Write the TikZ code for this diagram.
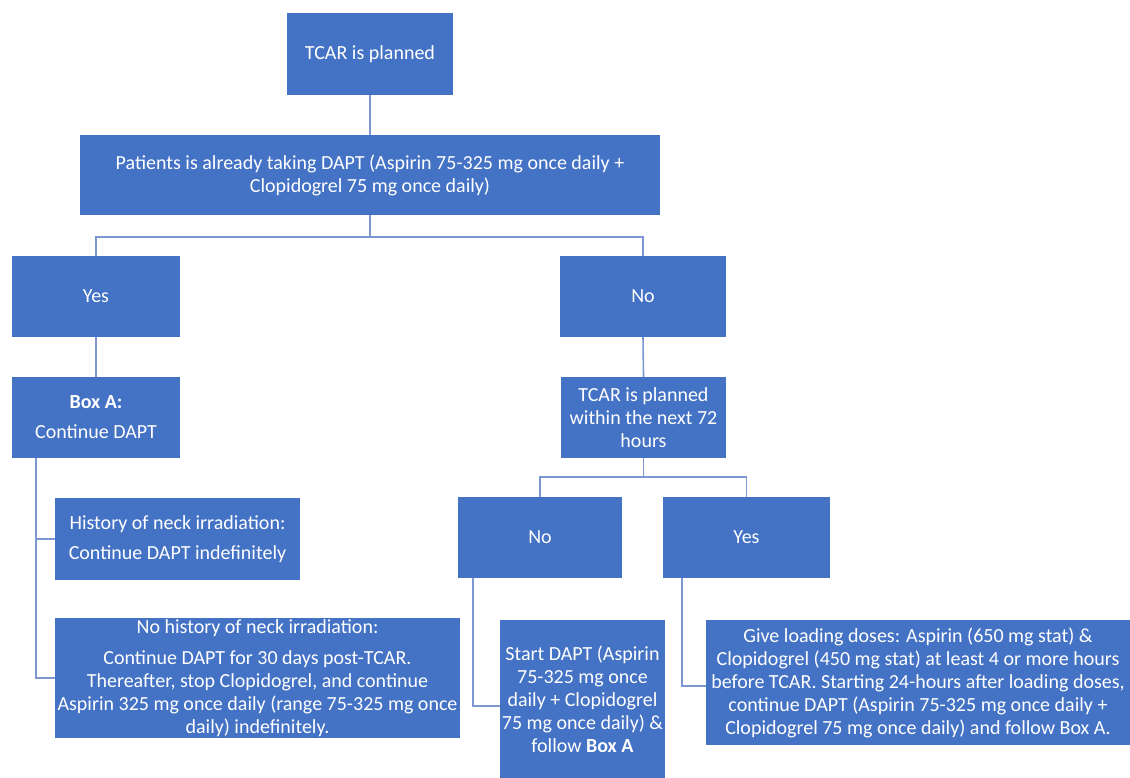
\documentclass[tikz,border=0pt]{standalone}
\usepackage{fontspec}
\setmainfont{Carlito}
\definecolor{boxblue}{HTML}{4472C4}
\definecolor{linkblue}{RGB}{125,152,208}
\begin{document}
\begin{tikzpicture}[x=1pt,y=-1pt,
  fbox/.style={fill=boxblue, text=white, align=center, inner sep=1pt,
    font=\fontsize{20}{23}\selectfont},
  link/.style={draw=linkblue, line width=1.6pt}]
\useasboundingbox (0,0) rectangle (1130,778);
\node[fbox, minimum width=166pt, minimum height=82pt] (top) at (370,54) {TCAR is planned};
\node[fbox, minimum width=580pt, minimum height=80pt] (pat) at (370,175)
  {Patients is already taking DAPT (Aspirin 75-325 mg once daily +\\ Clopidogrel 75 mg once daily)};
\node[fbox, minimum width=168pt, minimum height=81pt] (yes) at (96,296.5) {Yes};
\node[fbox, minimum width=166pt, minimum height=81pt] (no) at (643,296.5) {No};
\node[fbox, minimum width=168pt, minimum height=81pt] (boxa) at (96,417.5)
  {\textbf{Box A:}\\[7pt] Continue DAPT};
\node[fbox, minimum width=165pt, minimum height=81pt] (t72) at (643.5,417.5)
  {TCAR is planned\\ within the next 72\\ hours};
\node[fbox, minimum width=164pt, minimum height=81pt] (no2) at (540,537.5) {No};
\node[fbox, minimum width=167pt, minimum height=81pt] (yes2) at (746.5,537.5) {Yes};
\node[fbox, minimum width=245pt, minimum height=82pt] (hist) at (177.5,539)
  {History of neck irradiation:\\[7pt] Continue DAPT indefinitely};
\node[fbox, minimum width=405pt, minimum height=116pt] (nohist) at (257.5,678)
  {No history of neck irradiation:\\[8pt] Continue DAPT for 30 days post-TCAR.\\ Thereafter, stop Clopidogrel, and continue\\ Aspirin 325 mg once daily (range 75-325 mg once\\ daily) indefinitely.};
\node[fbox, minimum width=165pt, minimum height=158pt] (start) at (582.5,699)
  {Start DAPT (Aspirin\\ 75-325 mg once\\ daily + Clopidogrel\\ 75 mg once daily) \&\\ follow \textbf{Box A}};
\node[fbox, minimum width=424pt, minimum height=125pt] (load) at (918,682.5)
  {Give loading doses: Aspirin (650 mg stat) \&\\ Clopidogrel (450 mg stat) at least 4 or more hours\\ before TCAR. Starting 24-hours after loading doses,\\ continue DAPT (Aspirin 75-325 mg once daily +\\ Clopidogrel 75 mg once daily) and follow Box A.};
% connectors
\draw[link] (top.south) -- (pat.north);
\draw[link] (pat.south) -- ++(0,22) -| (yes.north);
\draw[link] (pat.south) -- ++(0,22) -| (no.north);
\draw[link] (yes.south) -- (boxa.north);
\draw[link] (no.south) -- (t72.north);
\draw[link] (t72.south) -- ++(0,19) -| (no2.north);
\draw[link] (t72.south) -- ++(0,19) -| (yes2.north);
\draw[link] ([xshift=24pt]boxa.south west) |- (hist.west);
\draw[link] ([xshift=24pt]boxa.south west) |- (nohist.west);
\draw[link] ([xshift=15pt]no2.south west) |- ([yshift=-7pt]start.west);
\draw[link] ([xshift=19pt]yes2.south west) |- ([yshift=-3.5pt]load.west);
\end{tikzpicture}
\end{document}
